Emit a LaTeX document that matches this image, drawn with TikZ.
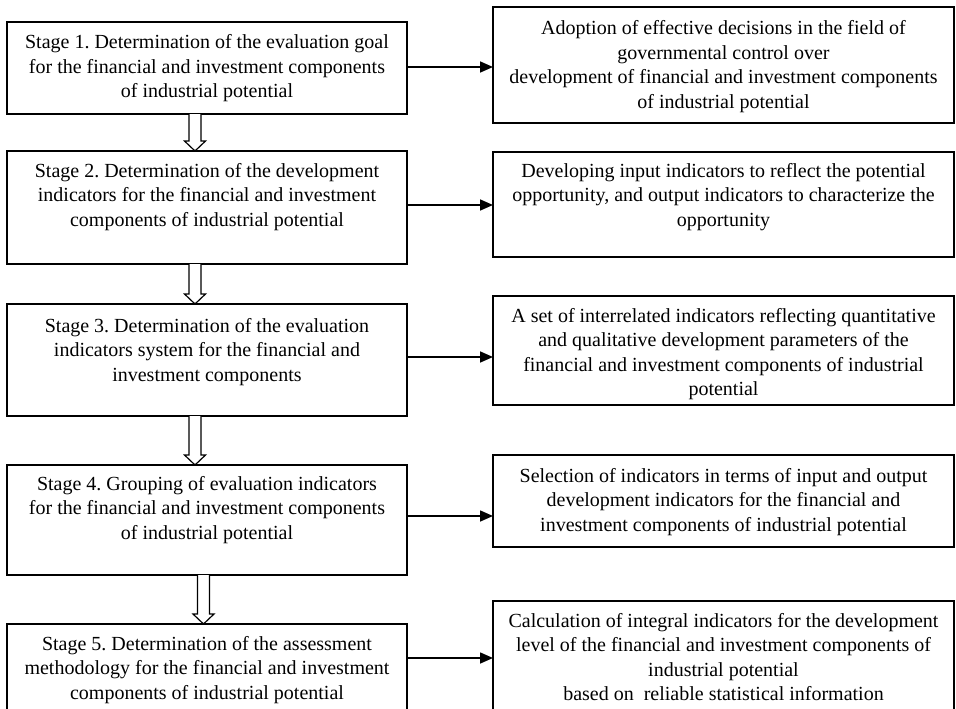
\documentclass[tikz,border=0pt]{standalone}
\usepackage{fontspec}
\setmainfont{Liberation Serif}
\usetikzlibrary{arrows.meta,calc}
\frenchspacing
\newcommand\bxt[4]{\parbox[c][#2][t]{#1}{\centering\frenchspacing\rule{0pt}{#3}#4\par}}
\newcommand\hollowarrow[3]{%
  \coordinate (ha) at ($(#1.south west)+(#3,0)$);
  \coordinate (hb) at (ha |- #2.north);
  \draw[hol] ($(ha)+(-6,0)$) -- ($(hb)+(-6,-10)$) -- ($(hb)+(-10.5,-10)$) -- (hb)
    -- ($(hb)+(10.5,-10)$) -- ($(hb)+(6,-10)$) -- ($(ha)+(6,0)$);}
\begin{document}
\begin{tikzpicture}[x=1pt,y=-1pt,
  sbox/.style={draw=black, line width=1.3pt, inner sep=0pt, outer sep=0pt,
    anchor=north west, font=\fontsize{20pt}{24.5pt}\selectfont},
  link/.style={line width=1.6pt, -{Triangle[length=13pt,width=11pt]}},
  hol/.style={line width=1.2pt, fill=white}]
\useasboundingbox (0,0) rectangle (956,709);
\clip (0,0) rectangle (956,709);

\node[sbox] (L1) at (7,22) {\bxt{400pt}{92pt}{27pt}{Stage 1. Determination of the evaluation goal\\ for the financial and investment components\\ of industrial potential}};
\node[sbox] (L2) at (7,151) {\bxt{400pt}{113pt}{26pt}{Stage 2. Determination of the development\\ indicators for the financial and investment\\ components of industrial potential}};
\node[sbox] (L3) at (7,304) {\bxt{400pt}{112pt}{28pt}{Stage 3. Determination of the evaluation\\ indicators system for the financial and\\ investment components}};
\node[sbox] (L4) at (7,465) {\bxt{400pt}{110pt}{25pt}{Stage 4. Grouping of evaluation indicators\\ for the financial and investment components\\ of industrial potential}};
\node[sbox] (L5) at (7,624) {\bxt{400pt}{88pt}{26pt}{Stage 5. Determination of the assessment\\ methodology for the financial and investment\\ components of industrial potential}};

\node[sbox] (R1) at (493,7) {\bxt{461pt}{116pt}{28pt}{Adoption of effective decisions in the field of\\ governmental control over\\ development of financial and investment components\\ of industrial potential}};
\node[sbox] (R2) at (493,152) {\bxt{461pt}{105pt}{25pt}{Developing input indicators to reflect the potential\\ opportunity, and output indicators to characterize the\\ opportunity}};
\node[sbox] (R3) at (493,296) {\bxt{461pt}{109pt}{26pt}{A set of interrelated indicators reflecting quantitative\\ and qualitative development parameters of the\\ financial and investment components of industrial\\ potential}};
\node[sbox] (R4) at (493,455) {\bxt{461pt}{92pt}{27pt}{Selection of indicators in terms of input and output\\ development indicators for the financial and\\ investment components of industrial potential}};
\node[sbox] (R5) at (493,601) {\bxt{461pt}{112pt}{26pt}{Calculation of integral indicators for the development\\ level of the financial and investment components of\\ industrial potential\\ based on \ reliable statistical information}};

\coordinate (a1) at ([yshift=1pt]L1.east);
\coordinate (a2) at ([yshift=2.5pt]L2.east);
\coordinate (a3) at ([yshift=3pt]L3.east);
\coordinate (a4) at ([yshift=4pt]L4.east);
\coordinate (a5) at ([yshift=-34pt]L5.north east);
\draw[link] (a1) -- (a1 -| R1.west);
\draw[link] (a2) -- (a2 -| R2.west);
\draw[link] (a3) -- (a3 -| R3.west);
\draw[link] (a4) -- (a4 -| R4.west);
\draw[link] (a5) -- (a5 -| R5.west);

\hollowarrow{L1}{L2}{188}
\hollowarrow{L2}{L3}{188}
\hollowarrow{L3}{L4}{188}
\hollowarrow{L4}{L5}{196.5}
\end{tikzpicture}
\end{document}
